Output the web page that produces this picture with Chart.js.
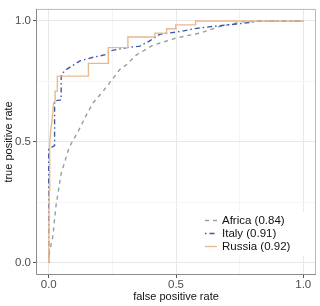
<!DOCTYPE html>
<html>
<head>
<meta charset="utf-8">
<script src="https://cdn.jsdelivr.net/npm/chart.js@4/dist/chart.umd.min.js"></script>
<style>
  body { margin: 0; background: #fff; }
</style>
</head>
<body>
<canvas id="rocChart" width="320" height="306"></canvas>
<script>
// ROC曲線のデータ
const africaFpr = [0, 0.002, 0.016, 0.029, 0.049, 0.081, 0.114, 0.147, 0.173, 0.214, 0.28, 0.306, 0.345, 0.41, 0.502, 0.593, 0.671, 0.761, 0.85, 1.0];
const africaTpr = [0, 0.04, 0.11, 0.24, 0.37, 0.48, 0.54, 0.61, 0.66, 0.71, 0.80, 0.82, 0.86, 0.90, 0.93, 0.95, 0.977, 0.997, 1.0, 1.0];

const italyFpr = [0, 0, 0.023, 0.023, 0.049, 0.049, 0.07, 0.1, 0.123, 0.175, 0.228, 0.24, 0.306, 0.358, 0.40, 0.436, 0.52, 0.57, 0.64, 0.76, 0.83, 1.0];
const italyTpr = [0, 0.47, 0.485, 0.67, 0.674, 0.78, 0.80, 0.82, 0.835, 0.85, 0.862, 0.876, 0.89, 0.896, 0.92, 0.945, 0.957, 0.968, 0.977, 0.99, 1.0, 1.0];

const russiaFpr = [0, 0.002, 0.004, 0.008, 0.012, 0.016, 0.019, 0.025, 0.025, 0.034, 0.034, 0.156, 0.156, 0.234, 0.234, 0.311, 0.311, 0.417, 0.417, 0.463, 0.463, 0.499, 0.499, 0.577, 0.577, 1.0];
const russiaTpr = [0, 0.3, 0.5, 0.55, 0.58, 0.62, 0.66, 0.67, 0.71, 0.71, 0.772, 0.772, 0.825, 0.825, 0.89, 0.89, 0.934, 0.934, 0.95, 0.95, 0.968, 0.968, 0.984, 0.984, 1.0, 1.0];

const seriesLabels = ["Africa (0.84)", "Italy (0.91)", "Russia (0.92)"];

// 目盛り
const gridTicks = [0, 0.25, 0.5, 0.75, 1];
const majorTicks = [0, 0.5, 1];
const xTickLabels = ["0.0", "0.5", "1.0"];
const yTickLabels = ["0.0", "0.5", "1.0"];

const FONT = "'Liberation Sans', Arial, sans-serif";

function toPoints(xs, ys) {
  return xs.map((x, i) => ({ x: x, y: ys[i] }));
}

function labelFor(labels) {
  return (value) => {
    const idx = majorTicks.indexOf(value);
    return idx >= 0 ? labels[idx] : "";
  };
}

function gridColor(ctx) {
  if (!ctx.tick) return "#ebebeb";
  return majorTicks.includes(ctx.tick.value) ? "#e8e8e8" : "#f4f4f4";
}

function tickColor(ctx) {
  if (!ctx.tick) return "#555";
  return majorTicks.includes(ctx.tick.value) ? "#555" : "rgba(0,0,0,0)";
}

// 凡例と枠線を描くプラグイン
const panelPlugin = {
  id: "panelPlugin",
  afterDatasetsDraw(chart) {
    const ctx = chart.ctx;
    const area = chart.chartArea;

    // 凡例（パネル内右下）
    const boxLeft = area.right - 116;
    const boxTop = area.bottom - 63;
    ctx.save();
    ctx.fillStyle = "#fff";
    ctx.fillRect(boxLeft, boxTop, 105, 44);
    chart.data.datasets.forEach((ds, i) => {
      const rowY = boxTop + 8.5 + i * 13;
      ctx.strokeStyle = ds.borderColor;
      ctx.lineWidth = ds.borderWidth;
      ctx.setLineDash(ds.borderDash || []);
      ctx.beginPath();
      ctx.moveTo(boxLeft + 5, rowY);
      ctx.lineTo(boxLeft + 17, rowY);
      ctx.stroke();
      ctx.setLineDash([]);
      ctx.fillStyle = "#111";
      ctx.font = "11.5px " + FONT;
      ctx.textBaseline = "middle";
      ctx.textAlign = "left";
      ctx.fillText(ds.label, boxLeft + 22, rowY);
    });

    // パネル枠
    ctx.lineWidth = 1;
    ctx.strokeStyle = "#b8b8b8";
    ctx.beginPath();
    ctx.moveTo(area.left, area.top + 0.5);
    ctx.lineTo(area.right - 0.5, area.top + 0.5);
    ctx.lineTo(area.right - 0.5, area.bottom);
    ctx.stroke();
    ctx.strokeStyle = "#8c8c8c";
    ctx.beginPath();
    ctx.moveTo(area.left + 0.5, area.top);
    ctx.lineTo(area.left + 0.5, area.bottom - 0.5);
    ctx.lineTo(area.right, area.bottom - 0.5);
    ctx.stroke();
    ctx.restore();
  }
};

const ctx = document.getElementById("rocChart").getContext("2d");
window.rocChart = new Chart(ctx, {
  type: "line",
  data: {
    datasets: [
      {
        label: seriesLabels[0],
        data: toPoints(africaFpr, africaTpr),
        borderColor: "#8fa29a",
        borderWidth: 1.4,
        borderDash: [4, 4],
        order: 3,
      },
      {
        label: seriesLabels[1],
        data: toPoints(italyFpr, italyTpr),
        borderColor: "#3d5aa6",
        borderWidth: 1.4,
        borderDash: [1.5, 3, 5, 3],
        order: 2,
      },
      {
        label: seriesLabels[2],
        data: toPoints(russiaFpr, russiaTpr),
        borderColor: "#e9b98e",
        borderWidth: 1.4,
        borderDash: [],
        order: 1,
      },
    ],
  },
  options: {
    responsive: false,
    animation: false,
    devicePixelRatio: 1,
    layout: { padding: { left: 0, top: 3, right: 4, bottom: 0 } },
    elements: {
      point: { radius: 0 },
      line: { tension: 0, fill: false },
    },
    plugins: {
      legend: { display: false },
      tooltip: { enabled: false },
    },
    scales: {
      x: {
        type: "linear",
        min: -0.05,
        max: 1.05,
        afterBuildTicks: (scale) => {
          scale.ticks = gridTicks.map((v) => ({ value: v }));
        },
        afterFit: (scale) => {
          scale.height = 31;
        },
        border: { display: false },
        grid: { color: gridColor, tickColor: tickColor, tickLength: 3, lineWidth: 1 },
        ticks: {
          callback: labelFor(xTickLabels),
          color: "#4d4d4d",
          font: { family: FONT, size: 11.5 },
          padding: 0,
          maxRotation: 0,
          autoSkip: false,
        },
        title: {
          display: true,
          text: "false positive rate",
          color: "#111",
          font: { family: FONT, size: 11 },
          padding: { top: 0, bottom: 2 },
        },
      },
      y: {
        type: "linear",
        min: -0.05,
        max: 1.05,
        afterBuildTicks: (scale) => {
          scale.ticks = gridTicks.map((v) => ({ value: v }));
        },
        afterFit: (scale) => {
          scale.width = 36;
        },
        border: { display: false },
        grid: { color: gridColor, tickColor: tickColor, tickLength: 3, lineWidth: 1 },
        ticks: {
          callback: labelFor(yTickLabels),
          color: "#4d4d4d",
          font: { family: FONT, size: 11.5 },
          padding: 2,
          autoSkip: false,
        },
        title: {
          display: true,
          text: "true positive rate",
          color: "#111",
          font: { family: FONT, size: 11 },
          padding: { top: 2.5, bottom: 0 },
        },
      },
    },
  },
  plugins: [panelPlugin],
});
</script>
</body>
</html>
